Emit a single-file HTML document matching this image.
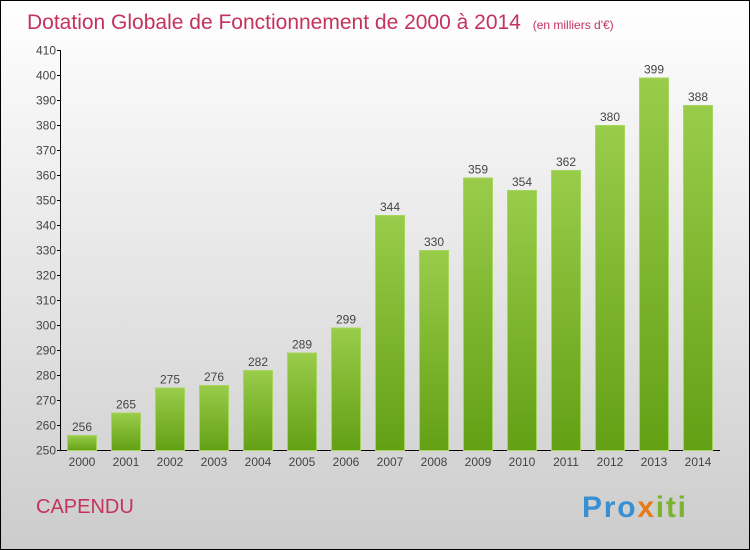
<!DOCTYPE html>
<html><head><meta charset="utf-8"><style>
body{margin:0}
#c{position:relative;width:750px;height:550px;overflow:hidden}
svg{display:block}
text{font-family:"Liberation Sans",sans-serif}
</style></head><body>
<div id="c">
<svg id="s" width="750" height="550">
<defs>
<linearGradient id="bg" x1="0" y1="0" x2="0" y2="1"><stop offset="0" stop-color="#ffffff"/><stop offset="1" stop-color="#cccccc"/></linearGradient>
<linearGradient id="bar" x1="0" y1="0" x2="0" y2="1"><stop offset="0" stop-color="#99cc4a"/><stop offset="1" stop-color="#63a014"/></linearGradient>
</defs>
<rect x="0.5" y="0.5" width="749" height="549" fill="url(#bg)" stroke="#000"/>
<text x="27" y="29" font-size="21" fill="#c4325e">Dotation Globale de Fonctionnement de 2000 à 2014 <tspan font-size="12" dx="6">(en milliers d'€)</tspan></text>
<text x="36" y="513" font-size="20" fill="#c4325e">CAPENDU</text>
<text x="582" y="517" font-size="30" font-weight="bold" fill="#3a8fd0" textLength="104">Pro<tspan fill="#e87a1a">x</tspan><tspan fill="#7ab32e">iti</tspan></text>
<g id="axes"></g><g id="bars"></g>
</svg></div>
<script>
const years=["2000","2001","2002","2003","2004","2005","2006","2007","2008","2009","2010","2011","2012","2013","2014"];
const values=[256,265,275,276,282,289,299,344,330,359,354,362,380,399,388];
const yTicks=[250,260,270,280,290,300,310,320,330,340,350,360,370,380,390,400,410];
const NS="http://www.w3.org/2000/svg";
const y=v=>450-(v-250)*2.5;
const x=i=>67+i*44;
function mk(t,a,p){const e=document.createElementNS(NS,t);for(const k in a)e.setAttribute(k,a[k]);p.appendChild(e);return e;}
const ax=document.getElementById('axes'),bg=document.getElementById('bars');
const yl=mk('line',{x1:60.5,y1:50,x2:60.5,y2:450.5,stroke:'#000'},ax);


const xl=mk('line',{x1:60,y1:450.5,x2:720,y2:450.5,stroke:'#000'},ax);


yTicks.forEach(v=>{
 mk('line',{x1:57,x2:61,y1:y(v)+.5,y2:y(v)+.5,stroke:'#000'},ax);
 const t=mk('text',{x:56,y:y(v)+4.5,'text-anchor':'end','font-size':12,fill:'#444'},ax);t.textContent=v;
 
 
});
years.forEach((yr,i)=>{
 const r=mk('rect',{x:x(i)+.5,y:y(values[i])+.5,width:29,height:450-y(values[i]),fill:'url(#bar)',stroke:'#a6d660','stroke-width':1},bg);
 
 
 const l=mk('text',{x:x(i)+15,y:y(values[i])-4,'text-anchor':'middle','font-size':12,fill:'#444'},bg);l.textContent=values[i];
 
 
 const xt=mk('text',{x:x(i)+15,y:466,'text-anchor':'middle','font-size':12,fill:'#444'},ax);xt.textContent=yr;
 
 
});
</script>
</body></html>
